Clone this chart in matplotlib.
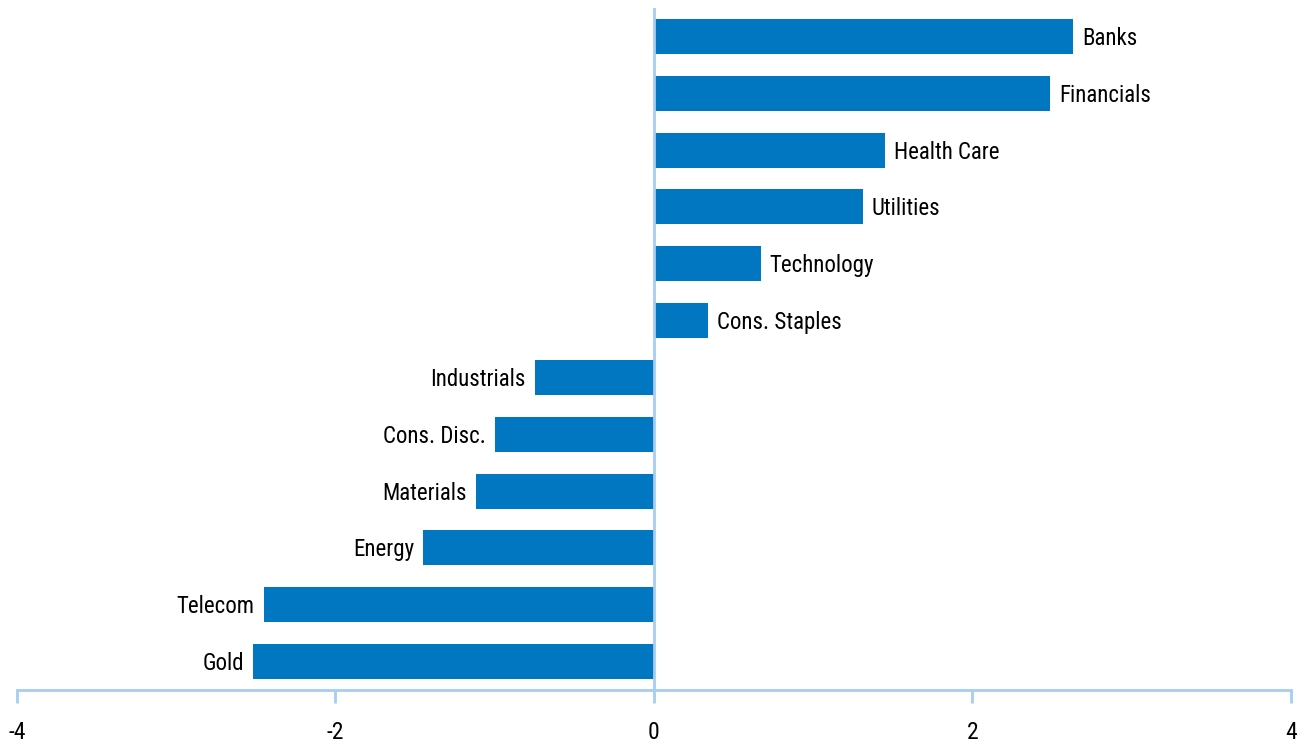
import matplotlib.pyplot as plt
from matplotlib.transforms import offset_copy

# Sectores, de baixo para cima
sectores = ["Gold", "Telecom", "Energy", "Materials", "Cons. Disc.", "Industrials",
            "Cons. Staples", "Technology", "Utilities", "Health Care", "Financials", "Banks"]
valores = [-2.52, -2.45, -1.45, -1.12, -1.00, -0.75,
           0.34, 0.67, 1.31, 1.45, 2.49, 2.63]
ticks_x = [-4, -2, 0, 2, 4]

cor_barra = "#0077c0"
cor_eixo = "#a6cdf2"
fonte = ["Liberation Sans Narrow", "Roboto Condensed", "DejaVu Sans Condensed", "Roboto", "DejaVu Sans"]

fig = plt.figure(figsize=(13.04, 7.45), dpi=100)
ax = fig.add_axes([0.013, 0.0738, 0.977, 0.9155])

pos = list(range(len(sectores)))
ax.barh(pos, valores, height=0.615, color=cor_barra, zorder=2)
ax.axvline(0, color=cor_eixo, linewidth=2, zorder=3)

# rótulos ao lado de cada barra
for y, v, nome in zip(pos, valores, sectores):
    if v >= 0:
        tr = offset_copy(ax.transData, fig=fig, x=9, y=-2, units="dots")
        ax.text(v, y, nome, transform=tr, ha="left", va="center", fontsize=16.5, family=fonte)
    else:
        tr = offset_copy(ax.transData, fig=fig, x=-9, y=-2, units="dots")
        ax.text(v, y, nome, transform=tr, ha="right", va="center", fontsize=16.5, family=fonte)

ax.set_xlim(-4, 4)
ax.set_ylim(-0.5, len(sectores) - 0.5)
ax.set_xticks(ticks_x)
ax.set_xticklabels([str(t) for t in ticks_x], fontsize=17, family=fonte)
ax.set_yticks([])

for lado in ["top", "right", "left"]:
    ax.spines[lado].set_visible(False)
ax.spines["bottom"].set_color(cor_eixo)
ax.spines["bottom"].set_linewidth(2)
ax.tick_params(axis="x", direction="out", length=9, width=2, color=cor_eixo, pad=13)

fig.savefig("out.png", dpi=100)
